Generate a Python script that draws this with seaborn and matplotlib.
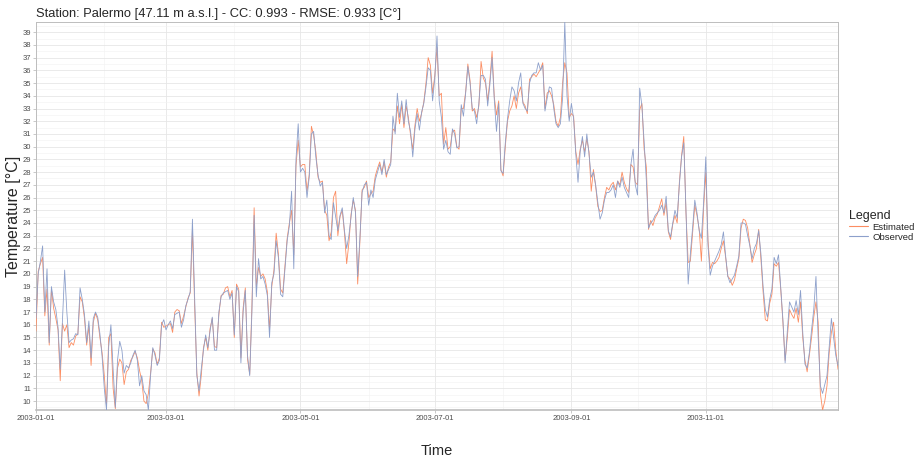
import numpy as np
import pandas as pd
import matplotlib
matplotlib.use("Agg")
import matplotlib.pyplot as plt
import matplotlib.dates as mdates
from matplotlib.lines import Line2D
import seaborn as sns

# ---------------- data (daily 2003) ----------------
start_date = "2003-01-01"
end_date = "2003-12-31"

observed = [
    16.5, 20.0, 21.0, 22.2, 17.0, 20.4, 14.6, 19.0, 17.8, 17.2,
    15.8, 12.5, 16.3, 20.3, 17.0, 14.6, 14.8, 14.9, 15.3, 15.2,
    18.9, 18.0, 16.8, 14.6, 16.3, 13.4, 16.5, 17.0, 16.6, 15.3,
    13.5, 11.0, 9.3, 14.3, 16.0, 12.5, 9.5, 13.2, 14.7, 14.0,
    12.2, 12.8, 12.6, 13.0, 13.6, 14.0, 13.2, 11.2, 12.0, 10.8,
    10.5, 9.3, 12.0, 14.2, 13.6, 12.8, 13.2, 16.0, 16.4, 15.6,
    16.0, 16.3, 15.7, 16.8, 16.9, 17.0, 15.8, 16.4, 17.5, 18.0,
    18.6, 24.3, 18.0, 12.0, 10.8, 12.5, 14.0, 15.2, 14.2, 15.5,
    16.6, 14.0, 14.0, 17.0, 18.2, 18.5, 18.6, 18.7, 18.0, 18.5,
    15.2, 19.0, 18.6, 13.0, 17.0, 18.7, 13.6, 12.0, 17.0, 24.6,
    18.2, 21.2, 19.6, 19.8, 19.2, 18.3, 15.0, 19.3, 20.0, 22.6,
    21.3, 18.4, 18.2, 20.4, 22.6, 23.8, 26.5, 20.4, 29.0, 31.8,
    28.0, 28.3, 28.0, 26.0, 27.6, 31.0, 31.2, 29.2, 27.8, 26.9,
    27.2, 24.8, 25.8, 23.0, 22.7, 25.6, 24.5, 23.4, 24.6, 25.2,
    23.4, 22.0, 23.0, 24.5, 26.0, 24.8, 19.8, 22.8, 26.4, 27.0,
    27.2, 25.4, 26.6, 26.0, 27.4, 28.0, 28.6, 27.8, 29.0, 27.8,
    28.2, 28.6, 32.4, 31.0, 34.2, 32.3, 33.6, 31.8, 33.7, 32.0,
    31.2, 29.2, 31.4, 32.6, 31.3, 32.7, 33.4, 34.7, 36.2, 36.0,
    33.6, 35.4, 38.7, 33.6, 32.3, 29.8, 30.5, 29.6, 29.4, 31.4,
    31.0, 29.9, 30.0, 33.3, 32.4, 34.2, 36.3, 35.0, 33.0, 32.8,
    31.8, 33.4, 35.6, 35.6, 35.3, 33.2, 34.9, 37.0, 33.7, 31.2,
    33.4, 28.1, 27.9, 30.3, 32.2, 33.6, 34.7, 34.4, 33.6, 35.0,
    35.8, 33.4, 33.0, 32.8, 35.0, 35.6, 35.8, 35.8, 36.6, 36.0,
    36.4, 32.8, 33.8, 34.7, 34.6, 33.0, 31.8, 31.5, 31.8, 33.8,
    39.8, 34.0, 32.0, 33.4, 32.2, 29.4, 27.2, 29.6, 30.8, 29.2,
    31.0, 29.4, 27.6, 28.0, 27.0, 25.6, 24.3, 24.8, 25.8, 26.4,
    26.4, 26.6, 27.0, 26.0, 27.3, 26.8, 27.6, 26.8, 26.4, 26.0,
    28.6, 29.8, 27.0, 26.2, 34.6, 33.2, 30.4, 27.4, 23.6, 24.0,
    24.2, 24.6, 24.8, 25.0, 25.4, 24.8, 26.1, 23.4, 22.9, 24.0,
    25.0, 24.4, 27.0, 29.2, 30.3, 25.0, 19.2, 21.6, 23.6, 25.8,
    24.8, 23.4, 22.8, 25.6, 29.2, 22.2, 19.9, 20.6, 21.0, 21.4,
    21.8, 22.3, 23.3, 21.4, 19.8, 19.3, 19.6, 19.9, 20.6, 21.4,
    24.0, 24.0, 23.9, 23.0, 22.2, 21.2, 22.0, 22.4, 23.4, 21.6,
    19.0, 17.2, 16.6, 18.0, 18.8, 21.3, 20.8, 21.5, 19.0, 16.4,
    13.0, 15.5, 17.8, 17.4, 17.0, 17.9, 16.8, 18.7, 15.4, 12.9,
    12.6, 13.8, 15.6, 17.2, 19.8, 15.0, 11.2, 10.6, 11.3, 12.0,
    14.2, 16.5, 15.0, 13.6, 12.8,
]

estimated = [
    15.5, 20.2, 20.8, 21.3, 16.7, 18.8, 14.4, 18.8, 17.3, 16.5,
    15.6, 11.6, 16.1, 15.5, 16.0, 14.2, 14.6, 14.4, 15.1, 15.3,
    18.2, 17.8, 16.5, 14.4, 15.9, 12.8, 16.2, 16.9, 16.4, 15.0,
    13.8, 12.0, 9.6, 15.0, 15.3, 11.0, 9.4, 12.6, 13.3, 13.0,
    11.3, 12.3, 12.5, 13.2, 13.5, 13.9, 13.4, 12.4, 11.6, 10.0,
    9.8, 10.6, 12.2, 14.1, 13.8, 12.9, 13.4, 16.2, 15.8, 15.9,
    16.0, 16.1, 15.4, 17.0, 17.2, 17.1, 16.1, 16.7, 17.4, 18.1,
    18.5, 23.5, 17.5, 12.2, 10.4, 12.0, 14.2, 15.0, 14.0, 15.7,
    16.5, 14.3, 14.2, 16.8, 18.3, 18.4, 18.9, 19.0, 18.2, 18.7,
    15.0, 19.2, 18.8, 13.4, 17.3, 18.9, 13.3, 12.1, 17.5, 25.2,
    19.0, 20.5, 19.8, 20.0, 19.6, 18.6, 15.6, 19.0, 20.3, 23.2,
    21.6, 18.8, 18.5, 20.6, 22.8, 24.0, 25.0, 21.5, 28.5, 30.5,
    28.4, 28.6, 28.6, 26.5, 27.8, 31.6, 30.9, 29.6, 27.6, 27.2,
    27.3, 25.0, 24.6, 22.6, 23.3, 26.0, 26.5, 23.0, 24.5, 25.0,
    23.2, 20.8, 22.4, 24.7, 25.8, 25.0, 19.2, 22.5, 26.6, 26.8,
    27.3, 26.0, 26.3, 26.5, 27.7, 28.3, 28.8, 28.0, 28.8, 27.6,
    28.4, 28.8, 31.4, 31.2, 33.2, 31.8, 33.3, 31.5, 33.2, 32.3,
    30.9, 29.8, 31.7, 33.0, 32.0, 32.6, 33.5, 35.0, 37.0, 36.4,
    34.2, 35.6, 37.8, 34.0, 34.2, 30.2, 31.5, 29.8, 30.0, 31.2,
    31.3, 30.0, 29.8, 33.0, 33.0, 34.3, 36.5, 35.2, 32.8, 33.0,
    32.3, 33.2, 36.7, 35.4, 35.0, 33.6, 35.2, 37.5, 33.9, 32.5,
    33.6, 28.2, 27.7, 30.0, 32.0, 32.8, 33.2, 34.0, 33.0, 34.2,
    34.7, 33.5, 33.2, 32.6, 35.3, 35.5, 35.7, 35.5, 35.8, 36.1,
    36.6, 33.0, 34.2, 34.4, 34.0, 33.3, 32.0, 31.6, 32.3, 35.0,
    36.6, 35.8, 32.3, 32.6, 32.4, 29.6, 28.6, 29.8, 30.5, 29.6,
    30.6, 29.6, 26.5, 28.2, 26.9, 25.3, 24.9, 25.0, 26.0, 26.8,
    26.6, 27.0, 27.2, 26.6, 27.3, 27.0, 28.0, 27.2, 26.7, 26.4,
    28.6, 28.4, 27.2, 27.0, 32.9, 33.4, 29.8, 28.4, 23.5, 24.2,
    23.8, 24.4, 24.7, 25.3, 25.9, 24.6, 25.6, 23.3, 22.7, 23.9,
    24.6, 24.0, 27.2, 29.3, 30.8, 24.8, 20.9, 21.0, 23.2, 25.4,
    24.6, 23.5, 21.0, 25.2, 28.0, 22.6, 20.4, 20.9, 20.8, 21.0,
    21.3, 22.0, 22.6, 21.3, 19.8, 19.6, 19.1, 19.5, 20.4, 21.2,
    23.6, 24.3, 24.2, 23.6, 22.3, 20.9, 21.5, 22.0, 23.5, 21.2,
    18.6, 16.4, 16.3, 17.7, 18.4, 20.8, 20.6, 20.9, 18.8, 16.2,
    13.2, 15.0, 17.2, 16.8, 16.5, 17.3, 16.2, 17.8, 15.0, 13.2,
    12.3, 13.6, 15.0, 16.6, 17.8, 16.2, 10.6, 9.3, 10.0, 11.2,
    13.8, 15.4, 16.2, 14.0, 12.5,
]

series_names = ["Estimated", "Observed"]
series_colors = ["#FC8D62", "#8DA0CB"]
x_tick_dates = ["2003-01-01", "2003-03-01", "2003-05-01", "2003-07-01", "2003-09-01", "2003-11-01"]
title_text = "Station: Palermo [47.11 m a.s.l.] - CC: 0.993 - RMSE: 0.933 [C°]"

# ---------------- table ----------------
dates = pd.date_range(start_date, end_date, freq="D")
df = pd.DataFrame({
    "Time": list(dates) * 2,
    "Temperature": estimated + observed,
    "Legend": [series_names[0]] * len(dates) + [series_names[1]] * len(dates),
})
palette = dict(zip(series_names, series_colors))

# ---------------- figure ----------------
sns.set_theme(style="white")
plt.rcParams["font.family"] = ["Liberation Sans", "DejaVu Sans"]

W, H = 916, 459
fig = plt.figure(figsize=(W / 100, H / 100), dpi=100)
fig.patch.set_facecolor("white")
L, R, T, B = 36, 838, 22, 410
ax = fig.add_axes([L / W, 1 - B / H, (R - L) / W, (B - T) / H])

sns.lineplot(data=df, x="Time", y="Temperature", hue="Legend", hue_order=series_names,
             palette=palette, linewidth=0.6, ax=ax, legend=False, zorder=3)

allv = estimated + observed
ymin, ymax = min(allv), max(allv)
ax.set_xlim(dates[0], dates[-1])
ax.set_ylim(ymin, ymax)

yt = list(range(int(np.ceil(ymin)), int(np.floor(ymax)) + 1))
ax.set_yticks(yt)
ax.set_yticks([v + 0.5 for v in range(int(np.floor(ymin)), int(np.floor(ymax)) + 1)], minor=True)

ax.set_xticks(pd.to_datetime(x_tick_dates))
ax.xaxis.set_major_formatter(mdates.DateFormatter("%Y-%m-%d"))
ax.xaxis.set_minor_locator(mdates.MonthLocator(bymonth=[2, 4, 6, 8, 10, 12]))

ax.grid(True, which="major", color="#E6E6E6", linewidth=0.6, zorder=0)
ax.grid(True, which="minor", color="#F2F2F2", linewidth=0.4, zorder=0)
ax.set_axisbelow(True)

for s in ax.spines.values():
    s.set_color("#BDBDBD")
    s.set_linewidth(0.7)
ax.spines["bottom"].set_linewidth(1.2)

ax.tick_params(axis="both", which="major", labelsize=5.5, labelcolor="#4D4D4D",
               length=2, width=0.5, color="#B3B3B3", pad=1.5, bottom=True, left=True)
ax.tick_params(axis="both", which="minor", length=0)

ax.set_xlabel("Time", fontsize=10.5, labelpad=16)
ax.set_ylabel("Temperature [°C]", fontsize=11.5, labelpad=1)

fig.text(L / W, 1 - 17 / H, title_text, fontsize=9.3, ha="left", va="baseline")

handles = [Line2D([0], [0], color=c, lw=0.8) for c in series_colors]
leg = fig.legend(handles, series_names, loc="upper left",
                 bbox_to_anchor=(845 / W, 1 - 206 / H), frameon=False,
                 title="Legend", fontsize=6.8, title_fontsize=9,
                 handlelength=2.0, handletextpad=0.5, labelspacing=0.1,
                 borderaxespad=0)
leg._legend_box.align = "left"

fig.savefig("out.png", dpi=100, facecolor="white")
